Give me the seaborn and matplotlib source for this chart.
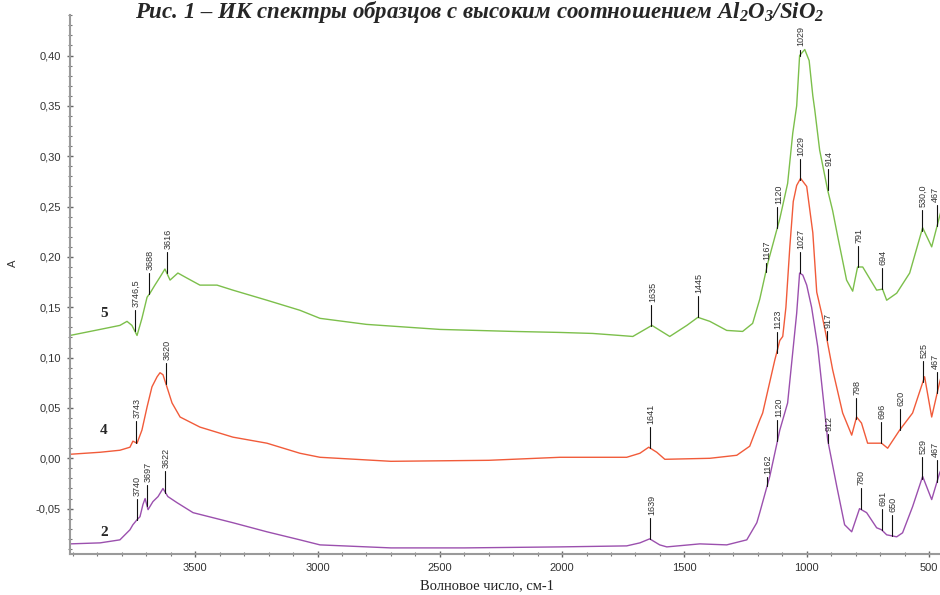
import numpy as np
import pandas as pd
import matplotlib
matplotlib.use("Agg")
import matplotlib.pyplot as plt
from matplotlib.ticker import MultipleLocator, FuncFormatter
import seaborn as sns

# --- spectra (wavenumber, absorbance) ---
wn_5 = [4012, 3889, 3808, 3779, 3759, 3738, 3718, 3697, 3685, 3665, 3644, 3624, 3603,
        3571, 3534, 3481, 3411, 3346, 3207, 3072, 2990, 2800, 2500, 2200, 2009, 1875,
        1764, 1711, 1633, 1560, 1490, 1445, 1396, 1327, 1262, 1221, 1192, 1159, 1110,
        1078, 1057, 1041, 1029, 1008, 990, 975, 967, 947, 914, 894, 873, 837, 812, 792,
        771, 714, 690, 673, 632, 579, 526, 489, 457, 440]
a_5 = [0.122, 0.128, 0.132, 0.136, 0.132, 0.122, 0.139, 0.160, 0.164, 0.172, 0.180, 0.188,
       0.177, 0.184, 0.179, 0.172, 0.172, 0.167, 0.157, 0.147, 0.139, 0.133, 0.128, 0.126,
       0.125, 0.124, 0.122, 0.121, 0.132, 0.121, 0.132, 0.140, 0.136, 0.127, 0.126, 0.134,
       0.158, 0.194, 0.238, 0.273, 0.323, 0.350, 0.400, 0.406, 0.395, 0.360, 0.346, 0.306,
       0.266, 0.246, 0.220, 0.177, 0.166, 0.190, 0.190, 0.167, 0.168, 0.157, 0.164, 0.184,
       0.229, 0.210, 0.240, 0.255]

wn_4 = [4012, 3889, 3808, 3767, 3755, 3738, 3718, 3697, 3677, 3656, 3644, 3632, 3616,
        3595, 3562, 3481, 3346, 3207, 3072, 2990, 2700, 2300, 2009, 1736, 1682, 1646,
        1613, 1580, 1396, 1286, 1233, 1192, 1180, 1131, 1110, 1098, 1085, 1069, 1055,
        1041, 1025, 1000, 975, 959, 939, 918, 894, 853, 816, 796, 776, 751, 694, 669, 620,
        567, 518, 489, 457, 440]
a_4 = [0.004, 0.006, 0.008, 0.011, 0.017, 0.015, 0.028, 0.051, 0.071, 0.081, 0.085, 0.083,
       0.071, 0.055, 0.041, 0.031, 0.021, 0.015, 0.005, 0.001, -0.003, -0.002, 0.001, 0.001,
       0.005, 0.011, 0.006, -0.001, 0.000, 0.003, 0.012, 0.038, 0.045, 0.097, 0.117, 0.121,
       0.150, 0.210, 0.255, 0.271, 0.278, 0.270, 0.224, 0.165, 0.144, 0.119, 0.088, 0.045,
       0.023, 0.041, 0.035, 0.015, 0.015, 0.010, 0.028, 0.045, 0.081, 0.041, 0.075, 0.090]

wn_2 = [4012, 3889, 3808, 3767, 3755, 3738, 3726, 3714, 3705, 3693, 3673, 3652, 3632,
        3612, 3575, 3509, 3346, 3207, 3072, 2990, 2700, 2400, 2009, 1736, 1682, 1642,
        1601, 1572, 1437, 1327, 1245, 1204, 1192, 1151, 1110, 1078, 1041, 1029, 1016,
        1000, 980, 955, 914, 877, 845, 816, 784, 755, 714, 694, 673, 632, 608, 567, 526,
        489, 457, 440]
a_2 = [-0.085, -0.084, -0.081, -0.071, -0.066, -0.061, -0.058, -0.046, -0.040, -0.051,
       -0.043, -0.038, -0.030, -0.038, -0.044, -0.054, -0.064, -0.073, -0.081, -0.086,
       -0.089, -0.089, -0.088, -0.087, -0.084, -0.080, -0.086, -0.088, -0.085, -0.086,
       -0.081, -0.064, -0.054, -0.018, 0.028, 0.055, 0.144, 0.184, 0.182, 0.172, 0.150,
       0.111, 0.018, -0.028, -0.066, -0.073, -0.050, -0.054, -0.069, -0.071, -0.076,
       -0.078, -0.074, -0.048, -0.018, -0.041, -0.015, -0.005]

# peak labels per curve
peaks_5 = ["3746,5", "3688", "3616", "1635", "1445", "1167", "1120", "1029", "914",
           "791", "694", "530,0", "467"]
peaks_4 = ["3743", "3620", "1641", "1123", "1029", "917", "798", "696", "620", "525", "467"]
peaks_2 = ["3740", "3697", "3622", "1639", "1162", "1120", "1027", "912", "780", "691",
           "650", "529", "467"]

curve_names = ["5", "4", "2"]

colors = {"5": "#7cbf4b", "4": "#f15b3a", "2": "#9b50ae"}
short_stems = {"1167", "1162", "917", "912"}
name_offsets = {"5": 0.022, "4": 0.024, "2": 0.011}

frames = []
for name, wn, a in zip(curve_names, [wn_5, wn_4, wn_2], [a_5, a_4, a_2]):
    frames.append(pd.DataFrame({"wn": wn, "A": a, "sample": name}))
df = pd.concat(frames, ignore_index=True)

sns.set_theme(style="white")
plt.rcParams["font.family"] = ["Liberation Sans", "DejaVu Sans"]
plt.rcParams["mathtext.fontset"] = "custom"
plt.rcParams["mathtext.rm"] = "Liberation Serif:italic:bold"
plt.rcParams["mathtext.it"] = "Liberation Serif:italic:bold"
plt.rcParams["mathtext.bf"] = "Liberation Serif:italic:bold"

fig = plt.figure(figsize=(9.4, 5.95), dpi=100)
ax = fig.add_axes([0.0745, 0.069, 0.9255, 0.906])

sns.lineplot(data=df, x="wn", y="A", hue="sample", palette=colors, estimator=None,
             sort=True, linewidth=1.0, legend=False, ax=ax)

ax.set_xlim(4012, 455)
ax.set_ylim(-0.095, 0.4404)

# peak markers
for name, wn, a, peaks in zip(curve_names, [wn_5, wn_4, wn_2], [a_5, a_4, a_2],
                              [peaks_5, peaks_4, peaks_2]):
    xs = np.array(wn[::-1], dtype=float)
    ys = np.array(a[::-1], dtype=float)
    for lab in peaks:
        x = float(lab.replace(",", "."))
        y0 = np.interp(x, xs, ys)
        stem = 0.009 if lab in short_stems else 0.021
        if name == "5" and lab == "1029":
            stem = 0.006
        ax.plot([x, x], [y0, y0 + stem], color="#111111", lw=0.8, clip_on=False)
        tx = x + 8 if lab == "467" else x - 4
        ax.text(tx, y0 + stem + 0.003, lab, rotation=90, ha="center", va="bottom",
                fontsize=6.5, color="#333333", clip_on=False)

# curve numbers
for name, wn, a in zip(curve_names, [wn_5, wn_4, wn_2], [a_5, a_4, a_2]):
    ax.text(3873, a[0] + name_offsets[name], name, fontsize=11, fontweight="bold",
            family="Liberation Serif", ha="center", va="center")

# axes style
for side in ["top", "right"]:
    ax.spines[side].set_visible(False)
for side in ["left", "bottom"]:
    ax.spines[side].set_color("#9a9a9a")
    ax.spines[side].set_linewidth(1.5)

ax.xaxis.set_major_locator(MultipleLocator(500))
ax.xaxis.set_minor_locator(MultipleLocator(100))
ax.yaxis.set_major_locator(MultipleLocator(0.05))
ax.yaxis.set_minor_locator(MultipleLocator(0.01))
ax.yaxis.set_major_formatter(FuncFormatter(lambda v, p: f"{v:.2f}".replace(".", ",")))
ax.set_xticks([3500, 3000, 2500, 2000, 1500, 1000, 500])
ax.tick_params(which="major", direction="inout", length=5, width=1, color="#666666",
               labelsize=8, labelcolor="#333333", pad=4,
               bottom=True, left=True)
ax.tick_params(which="minor", direction="inout", length=3, width=0.8, color="#777777",
               bottom=True, left=True)

ax.set_xlabel("Волновое число, см-1", family="Liberation Serif", fontsize=10.5,
              color="#222222")
ax.xaxis.set_label_coords(0.479, -0.047)
ax.set_ylabel("A", fontsize=8, color="#333333")
ax.yaxis.set_label_coords(-0.06, 0.54)

fig.text(0.51, 0.9705,
         "Рис. 1 – ИК спектры образцов с высоким соотношением Al$_2$O$_3$/SiO$_2$",
         ha="center", va="baseline", fontsize=16.5, fontweight="bold", fontstyle="italic",
         family="Liberation Serif")

fig.savefig("out.png", dpi=100)
